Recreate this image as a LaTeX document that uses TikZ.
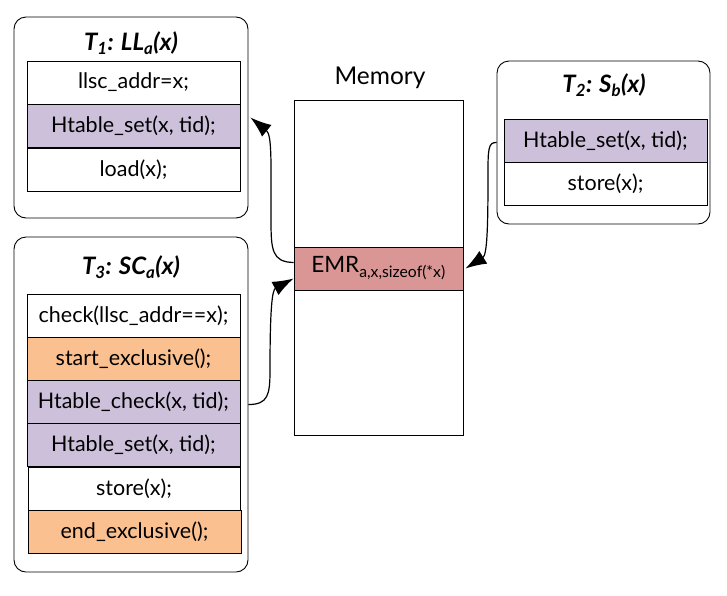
\documentclass[tikz,border=0pt]{standalone}
\usepackage{fontspec}
\setmainfont{Lato}
\usepackage{tikz}
\usetikzlibrary{arrows.meta,positioning,calc}
\definecolor{rowpurple}{RGB}{204,192,218}
\definecolor{roworange}{RGB}{250,192,144}
\definecolor{emrred}{RGB}{217,150,148}

\begin{document}
\begin{tikzpicture}[
  x=1pt, y=-1pt,
  thread/.style={draw, rounded corners=12pt, line width=0.9pt, inner sep=0pt},
  row/.style={draw, line width=0.9pt, minimum width=213pt, minimum height=43pt, inner sep=0pt, font=\fontsize{21.5}{24}\selectfont},
  title/.style={font=\fontsize{24}{27}\selectfont\bfseries\itshape},
  flow/.style={-{Latex[length=21pt,width=15pt]}, line width=1.2pt},
]
  \useasboundingbox (0,0) rectangle (727,595);

  % thread T1
  \node[thread, minimum width=234pt, minimum height=201pt] (t1box) at (131,117.5) {};
  \node[title] (t1title) at (131,43) {T\textsubscript{1}: LL\textsubscript{a}(x)};
  \node[row] (t1addr) at (133.5,82.5) {llsc\_addr=x;};
  \node[row, fill=rowpurple] (t1set) at (133.5,126) {Htable\_set(x, tid);};
  \node[row] (t1load) at (133.5,169.5) {load(x);};

  % memory
  \node[font=\fontsize{24.5}{27}\selectfont] (memlabel) at (380,78) {Memory};
  \node[draw, line width=0.9pt, minimum width=169pt, minimum height=335pt, inner sep=0pt] (mem) at (378.5,267.5) {};
  \node[row, minimum width=169pt, fill=emrred, font=\fontsize{22.5}{25}\selectfont] (emr) at (378.5,268.5) {EMR\textsubscript{a,x,sizeof(*x)}};

  % thread T2
  \node[thread, minimum width=213pt, minimum height=163pt] (t2box) at (603.5,142.5) {};
  \node[title] (t2title) at (604,85) {T\textsubscript{2}: S\textsubscript{b}(x)};
  \node[row, minimum width=203pt, fill=rowpurple] (t2set) at (605.5,140.5) {Htable\_set(x, tid);};
  \node[row, minimum width=203pt] (t2store) at (605.5,183.5) {store(x);};

  % thread T3
  \node[thread, minimum width=234pt, minimum height=335pt] (t3box) at (131,404.5) {};
  \node[title] (t3title) at (131,267) {T\textsubscript{3}: SC\textsubscript{a}(x)};
  \node[row] (t3check) at (133.5,315.5) {check(llsc\_addr==x);};
  \node[row, fill=roworange] (t3start) at (133.5,358.5) {start\_exclusive();};
  \node[row, fill=rowpurple] (t3hcheck) at (133.5,401.5) {Htable\_check(x, tid);};
  \node[row, fill=rowpurple] (t3hset) at (133.5,444.5) {Htable\_set(x, tid);};
  \node[row, minimum width=212pt] (t3store) at (134,489) {store(x);};
  \node[row, fill=roworange] (t3end) at (134.5,531.5) {end\_exclusive();};

  \draw[flow] ([yshift=6pt]emr.west) .. controls (272,262) and (271,250) .. (271,220) .. controls (271,160) and (272,135) .. ([xshift=2pt]t1box.east);
  \draw[flow] (t2box.west) .. controls (488,142) and (488,150) .. (488,175) .. controls (488,230) and (487,255) .. ([xshift=2pt]emr.east);
  \draw[flow] (t3box.east) .. controls (268,404.5) and (270,395) .. (270,370) .. controls (270,310) and (272,290) .. ([yshift=-10pt]emr.west);
\end{tikzpicture}
\end{document}
